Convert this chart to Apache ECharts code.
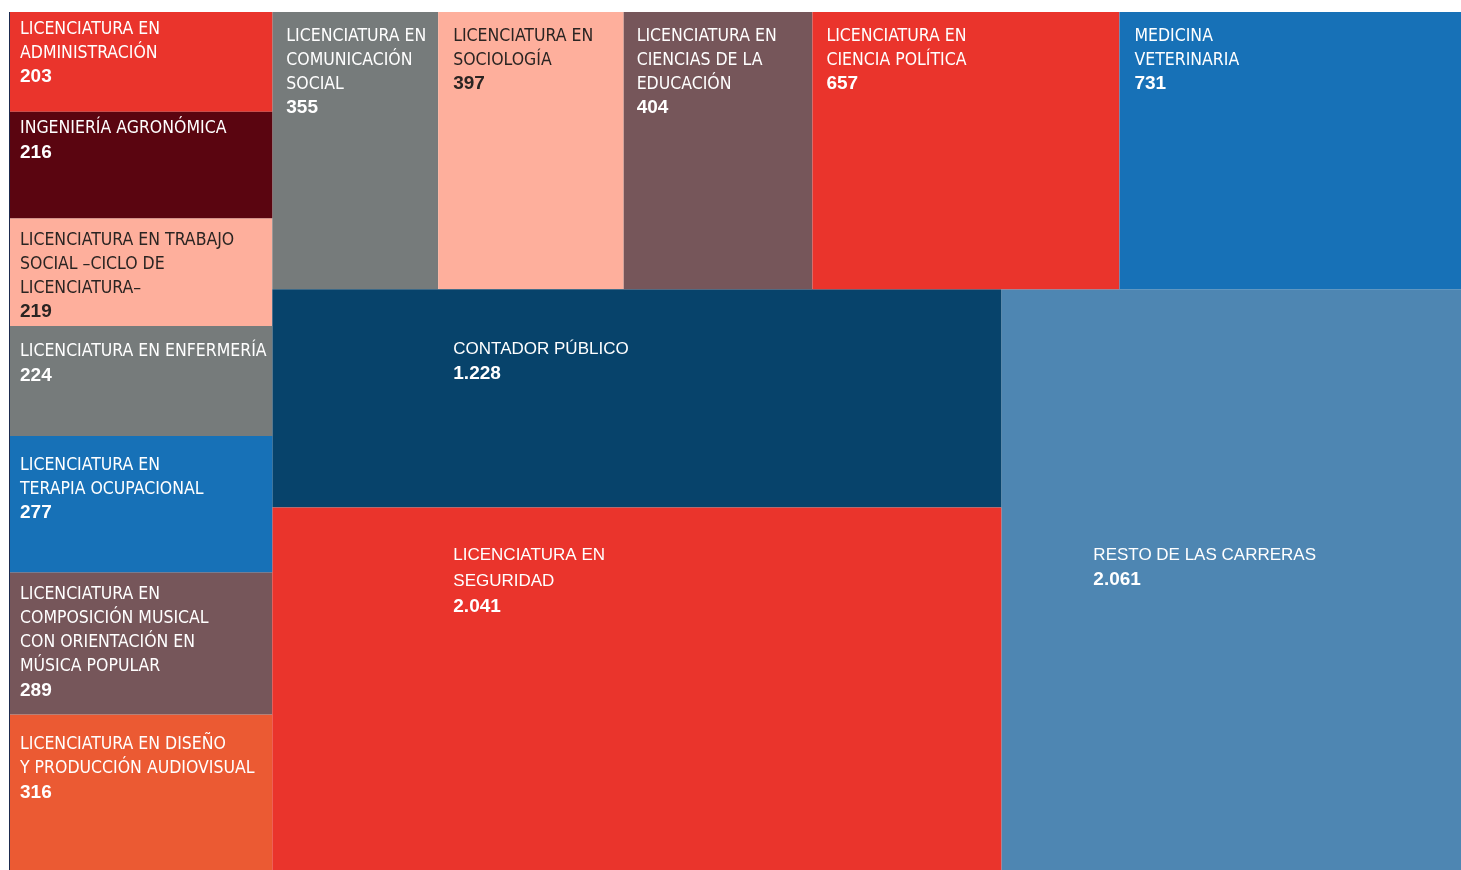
<!DOCTYPE html>
<html>
<head>
<meta charset="utf-8">
<script src="https://cdn.jsdelivr.net/npm/echarts@6/dist/echarts.min.js"></script>
<style>
html, body { margin: 0; padding: 0; background: #ffffff; }
#chart { width: 1461px; height: 870px; }
</style>
</head>
<body>
<div id="chart"></div>
<script>
// ---------------- DATA ----------------
const careers = [
  'LICENCIATURA EN\nADMINISTRACIÓN',
  'INGENIERÍA AGRONÓMICA',
  'LICENCIATURA EN TRABAJO\nSOCIAL –CICLO DE\nLICENCIATURA–',
  'LICENCIATURA EN ENFERMERÍA',
  'LICENCIATURA EN\nTERAPIA OCUPACIONAL',
  'LICENCIATURA EN\nCOMPOSICIÓN MUSICAL\nCON ORIENTACIÓN EN\nMÚSICA POPULAR',
  'LICENCIATURA EN DISEÑO\nY PRODUCCIÓN AUDIOVISUAL',
  'LICENCIATURA EN\nCOMUNICACIÓN\nSOCIAL',
  'LICENCIATURA EN\nSOCIOLOGÍA',
  'LICENCIATURA EN\nCIENCIAS DE LA\nEDUCACIÓN',
  'LICENCIATURA EN\nCIENCIA POLÍTICA',
  'MEDICINA\nVETERINARIA',
  'CONTADOR PÚBLICO',
  'LICENCIATURA EN\nSEGURIDAD',
  'RESTO DE LAS CARRERAS'
];
const students = [203, 216, 219, 224, 277, 289, 316, 355, 397, 404, 657, 731, 1228, 2041, 2061];

// Hierarchy (indices into the arrays above) that groups the cells into blocks
const grouping = [
  [[[0, 1], 2], [[[3, 4], 5], 6]],
  [[7, [8, [9, [10, 11]]]], [[12, 13], 14]]
];

// ---------------- STYLE ----------------
const palette = [
  '#EA342C', '#5A0510', '#FEAF9C', '#767B7B', '#1771B7', '#76565A', '#EB5A33',
  '#767B7B', '#FEAF9C', '#76565A', '#EA342C', '#1771B7',
  '#07436B', '#EA342C', '#4E86B2'
];
const darkText = [2, 8];
// label padding [top, left] for the small cells
const labelPad = {
  0: [5, 11], 1: [5, 11], 2: [10, 11], 3: [14, 11], 4: [17, 11], 5: [10, 11], 6: [18, 11],
  7: [12, 14], 8: [12, 15], 9: [12, 13], 10: [12, 14], 11: [12, 15]
};
// label anchor inside the three large cells
const bigLabelPos = { 12: [181, 47], 13: [181, 35], 14: [92, 253] };

const NARROW = "'Liberation Sans Narrow', 'DejaVu Sans Condensed', sans-serif";
const REGULAR = "'Liberation Sans', Arial, sans-serif";

function fmt(v) {
  return String(v).replace(/\B(?=(\d{3})+(?!\d))/g, '.');
}

function leaf(i) {
  const big = bigLabelPos[i];
  const node = {
    name: careers[i],
    value: students[i],
    itemStyle: { color: palette[i] },
    label: {
      color: darkText.indexOf(i) >= 0 ? '#2a2422' : '#ffffff'
    }
  };
  if (big) {
    node.label.position = big;
    node.label.padding = 0;
    node.label.formatter = function (p) {
      return '{b|' + p.name + '}\n{v|' + fmt(p.value) + '}';
    };
  } else {
    const pd = labelPad[i];
    node.label.padding = [pd[0], 4, 0, pd[1]];
  }
  return node;
}

function build(g) {
  if (typeof g === 'number') return leaf(g);
  return { name: '', children: g.map(build), itemStyle: { color: '#888' } };
}

const tree = grouping.map(build);

const chart = echarts.init(document.getElementById('chart'), null, { renderer: 'canvas' });
chart.setOption({
  animation: false,
  graphic: [{
    type: 'rect',
    left: 9, top: 12,
    shape: { width: 1, height: 858 },
    style: { fill: '#1d2b4f' },
    z: 100
  }],
  series: [{
    type: 'treemap',
    left: 9, top: 12, width: 1452, height: 858,
    squareRatio: 1.5,
    sort: false,
    roam: false,
    nodeClick: false,
    breadcrumb: { show: false },
    itemStyle: { borderWidth: 0, gapWidth: 0, borderColor: 'transparent' },
    upperLabel: { show: false },
    emphasis: { disabled: true },
    label: {
      show: true,
      position: 'insideTopLeft',
      distance: 0,
      padding: [6, 4, 0, 11],
      overflow: 'none',
      formatter: function (p) {
        return '{n|' + p.name + '}\n{v|' + fmt(p.value) + '}';
      },
      rich: {
        n: { fontFamily: NARROW, fontSize: 17.5, lineHeight: 24 },
        v: { fontFamily: REGULAR, fontSize: 19, fontWeight: 'bold', lineHeight: 24 },
        b: { fontFamily: REGULAR, fontSize: 17, lineHeight: 26 }
      }
    },
    data: tree
  }]
});
</script>
</body>
</html>
